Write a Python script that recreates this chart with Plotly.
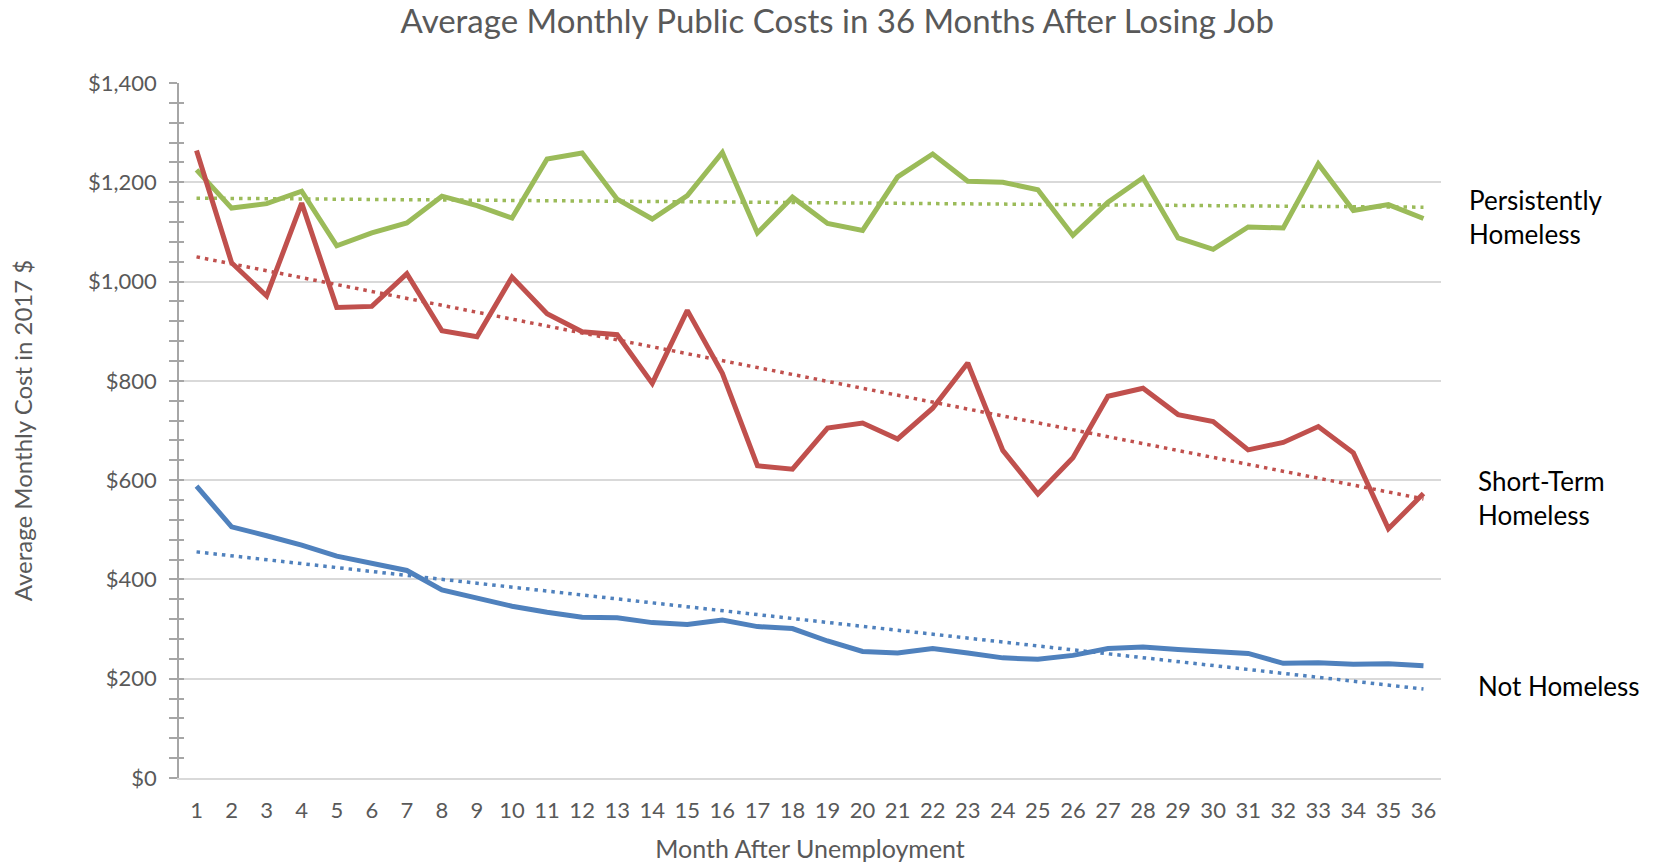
import numpy as np
import plotly.graph_objects as go

months = list(range(1, 37))

persistently_homeless = [1225, 1148, 1157, 1182, 1072, 1098, 1118, 1172, 1153, 1128,
                         1247, 1259, 1166, 1126, 1173, 1260, 1098, 1170, 1117, 1103,
                         1211, 1257, 1202, 1200, 1185, 1093, 1160, 1209, 1088, 1065,
                         1110, 1108, 1237, 1143, 1155, 1127]
short_term_homeless = [1264, 1038, 971, 1158, 948, 950, 1016, 901, 889, 1009,
                       935, 899, 893, 795, 942, 815, 629, 622, 705, 715,
                       683, 745, 836, 660, 572, 645, 769, 785, 732, 718,
                       661, 676, 708, 655, 502, 573]
not_homeless = [588, 506, 488, 469, 447, 432, 418, 379, 363, 346,
                334, 324, 323, 313, 309, 318, 305, 301, 276, 255,
                252, 261, 252, 242, 239, 247, 261, 264, 259, 254,
                251, 231, 232, 229, 230, 226]

series_names = ["Persistently Homeless", "Short-Term Homeless", "Not Homeless"]
label_texts = ["Persistently<br>Homeless", "Short-Term<br>Homeless", "Not Homeless"]
label_x = [1.0205, 1.0275, 1.0275]
label_y = [1130, 564, 185]
colors = ["#9BBB59", "#C0504D", "#4F81BD"]

y_tickvals = [0, 200, 400, 600, 800, 1000, 1200, 1400]
y_ticktext = ["$0", "$200", "$400", "$600", "$800", "$1,000", "$1,200", "$1,400"]

FONT = "Lato"

fig = go.Figure()
x = np.array(months, dtype=float)
all_series = [persistently_homeless, short_term_homeless, not_homeless]

# linear trendlines (least squares, as in the original spreadsheet)
for vals, col, name in zip(all_series, colors, series_names):
    slope, intercept = np.polyfit(x, np.array(vals, dtype=float), 1)
    fig.add_trace(go.Scatter(x=months, y=list(slope * x + intercept), mode="lines",
                             line=dict(color=col, width=3.5, dash="3.5px,5px"),
                             name=name + " trend", showlegend=False, hoverinfo="skip"))

for vals, col, name in zip(all_series, colors, series_names):
    fig.add_trace(go.Scatter(x=months, y=vals, mode="lines",
                             line=dict(color=col, width=5),
                             name=name, showlegend=False))

for txt, xv, yv in zip(label_texts, label_x, label_y):
    fig.add_annotation(x=xv, y=yv, xref="paper", yref="y",
                       text=txt, showarrow=False, xanchor="left", yanchor="middle",
                       align="left", font=dict(family=FONT, size=26, color="#000000"))

fig.update_layout(
    width=1652, height=856,
    margin=dict(l=171, r=219, t=75, b=86, autoexpand=False),
    paper_bgcolor="white", plot_bgcolor="white",
    title=dict(text="Average Monthly Public Costs in 36 Months After Losing Job",
               x=0.502, xanchor="center", y=0.984, yanchor="middle",
               font=dict(family=FONT, size=33, color="#595959")),
    showlegend=False,
    xaxis=dict(range=[0.5, 36.5], tickvals=months, ticktext=[str(m) for m in months],
               showgrid=False, zeroline=False, showline=True, linecolor="#D9D9D9",
               linewidth=1.5, ticks="",
               ticklabelstandoff=12,
               tickfont=dict(family=FONT, size=22, color="#595959"),
               title=dict(text="Month After Unemployment", standoff=18,
                          font=dict(family=FONT, size=25, color="#595959"))),
    yaxis=dict(range=[0, 1400], tickvals=y_tickvals, ticktext=y_ticktext,
               showgrid=True, gridcolor="#D9D9D9", gridwidth=1.5,
               zeroline=False, showline=True, linecolor="#A6A6A6", linewidth=1.5,
               ticks="outside", ticklen=8, tickcolor="#A6A6A6", tickwidth=1.5,
               minor=dict(dtick=40, ticks="outside", ticklen=8, tickcolor="#A6A6A6",
                          tickwidth=1.5, showgrid=False),
               ticklabelstandoff=8,
               tickfont=dict(family=FONT, size=22, color="#595959"),
               title=dict(text="Average Monthly Cost in 2017 $", standoff=54,
                          font=dict(family=FONT, size=24, color="#595959"))),
    yaxis2=dict(range=[0, 1400], overlaying="y", side="left", anchor="x",
                tickvals=y_tickvals, showticklabels=False, showgrid=False,
                zeroline=False, showline=False,
                ticks="inside", ticklen=5, tickcolor="#A6A6A6", tickwidth=1.5,
                minor=dict(dtick=40, ticks="inside", ticklen=5, tickcolor="#A6A6A6",
                           tickwidth=1.5, showgrid=False)),
)
# invisible helper trace that activates the overlaid tick axis
fig.add_trace(go.Scatter(x=[1], y=[0], yaxis="y2", mode="markers",
                         marker=dict(opacity=0), showlegend=False, hoverinfo="skip"))

fig.write_html("out.html")
